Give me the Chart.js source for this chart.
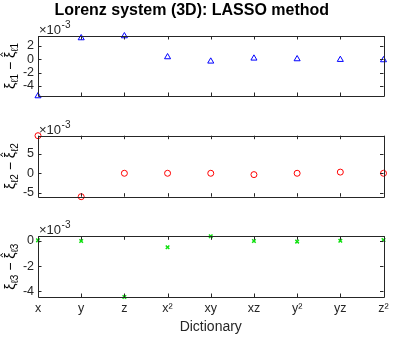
<!DOCTYPE html>
<html>
<head>
<meta charset="utf-8">
<script src="https://cdn.jsdelivr.net/npm/chart.js@4.4.1/dist/chart.umd.min.js"></script>
<style>
  html, body { margin: 0; padding: 0; background: #fff; }
  #wrap { position: relative; width: 393px; height: 340px; }
  canvas { position: absolute; left: 0; }
</style>
</head>
<body>
<div id="wrap">
  <canvas id="c1" width="393" height="110" style="top:0"></canvas>
  <canvas id="c2" width="393" height="110" style="top:110px"></canvas>
  <canvas id="c3" width="393" height="120" style="top:220px"></canvas>
</div>
<script>
// dictionary terms (x axis)
const terms = ['x', 'y', 'z', 'x²', 'xy', 'xz', 'y²', 'yz', 'z²'];

// coefficient errors, in units of 1e-3
const err1 = [-5.5, 3.2, 3.5, 0.35, -0.3, 0.15, 0.05, -0.05, -0.1];
const err2 = [9.7, -6.05, 0, 0, 0, -0.35, 0, 0.3, 0];
const err3 = [0.05, 0, -4.45, -0.5, 0.37, 0, -0.05, 0.02, 0.08];

// y tick labels of each panel
const ticks1 = [-4, -2, 0, 2];
const ticks2 = [-5, 0, 5];
const ticks3 = [-4, -2, 0];

const FONT = "'Liberation Sans', Arial, Helvetica, sans-serif";
const AXIS = '#262626';

// box with inward ticks, the x10^-3 exponent and the y label
const decoPlugin = {
  id: 'deco',
  afterDraw(chart, args, opts) {
    const { ctx, chartArea: a, scales } = chart;
    ctx.save();
    ctx.strokeStyle = AXIS;
    ctx.lineWidth = 1;
    ctx.beginPath();
    ctx.rect(Math.round(a.left) + 0.5, Math.round(a.top) + 0.5,
             Math.round(a.right - a.left), Math.round(a.bottom - a.top));
    const tl = 3.5;
    terms.forEach((t, i) => {
      const px = Math.round(scales.x.getPixelForValue(i)) + 0.5;
      ctx.moveTo(px, a.bottom); ctx.lineTo(px, a.bottom - tl);
      ctx.moveTo(px, a.top); ctx.lineTo(px, a.top + tl);
    });
    scales.y.ticks.forEach(tk => {
      const py = Math.round(scales.y.getPixelForValue(tk.value)) + 0.5;
      ctx.moveTo(a.left, py); ctx.lineTo(a.left + tl, py);
      ctx.moveTo(a.right, py); ctx.lineTo(a.right - tl, py);
    });
    ctx.stroke();

    // exponent
    ctx.fillStyle = AXIS;
    ctx.textBaseline = 'alphabetic';
    ctx.textAlign = 'left';
    ctx.font = '13px ' + FONT;
    const base = a.top - 2;
    ctx.fillText('×10', a.left + 1, base);
    const w = ctx.measureText('×10').width;
    ctx.font = '10px ' + FONT;
    ctx.fillText('-3', a.left + 1.5 + w, base - 6);

    // y label: xi_lk - hat(xi)_lk, rotated
    const k = opts.k;
    const parts = [
      ['ξ', 14, 0, false], ['ℓ' + k, 10, 3, false], [' − ', 14, 0, false],
      ['ξ', 14, 0, true], ['ℓ' + k, 10, 3, false]
    ];
    let total = 0;
    parts.forEach(p => { ctx.font = p[1] + 'px ' + FONT; total += ctx.measureText(p[0]).width; });
    ctx.translate(15, (a.top + a.bottom) / 2);
    ctx.rotate(-Math.PI / 2);
    let x = -total / 2;
    ctx.fillStyle = '#000';
    ctx.strokeStyle = '#000';
    parts.forEach(p => {
      ctx.font = p[1] + 'px ' + FONT;
      ctx.fillText(p[0], x, p[2]);
      const pw = ctx.measureText(p[0]).width;
      if (p[3]) {
        ctx.beginPath();
        ctx.lineWidth = 0.9;
        ctx.moveTo(x + pw * 0.25, -12);
        ctx.lineTo(x + pw * 0.55, -14.5);
        ctx.lineTo(x + pw * 0.85, -12);
        ctx.stroke();
      }
      x += pw;
    });
    ctx.restore();
  }
};

function makePanel(id, values, ticks, min, max, style, color, opts) {
  const showX = !!opts.showX;
  return new Chart(document.getElementById(id), {
    type: 'line',
    data: {
      labels: terms,
      datasets: [{
        data: values,
        showLine: false,
        pointStyle: style.shape,
        pointRadius: style.r,
        pointHoverRadius: style.r,
        pointBorderWidth: style.bw,
        pointBorderColor: color,
        pointBackgroundColor: 'rgba(0,0,0,0)',
        clip: false
      }]
    },
    options: {
      responsive: false,
      animation: false,
      events: [],
      layout: { padding: opts.padding },
      plugins: {
        legend: { display: false },
        tooltip: { enabled: false },
        title: opts.title ? {
          display: true,
          text: opts.title,
          color: '#000',
          font: { family: FONT, size: 16, weight: 'bold' },
          padding: { top: 1, bottom: 15.8 }
        } : { display: false },
        deco: { k: opts.k }
      },
      scales: {
        x: {
          type: 'category',
          offset: false,
          grid: { display: false, drawTicks: false },
          border: { display: false },
          ticks: {
            display: showX,
            color: AXIS,
            padding: 4,
            maxRotation: 0,
            autoSkip: false,
            font: { family: FONT, size: 12.5 }
          },
          title: {
            display: showX,
            text: 'Dictionary',
            color: AXIS,
            font: { family: FONT, size: 14 },
            padding: { top: 0, bottom: 4 }
          },
          afterFit(scale) {
            scale.paddingLeft = 0;
            scale.paddingRight = 0;
            scale.height = showX ? 43 : 0;
          }
        },
        y: {
          min: min,
          max: max,
          grid: { display: false, drawTicks: false },
          border: { display: false },
          ticks: {
            color: AXIS,
            padding: 4,
            font: { family: FONT, size: 12.5 }
          },
          afterBuildTicks(scale) {
            scale.ticks = ticks.map(v => ({ value: v }));
          },
          afterFit(scale) { scale.width = 38; }
        }
      }
    },
    plugins: [decoPlugin]
  });
}

makePanel('c1', err1, ticks1, -5.5, 3.5,
  { shape: 'triangle', r: 3.5, bw: 1 }, '#0000ff',
  { padding: { left: 0, right: 9.5, top: 0, bottom: 14 }, title: 'Lorenz system (3D): LASSO method', k: 1 });

makePanel('c2', err2, ticks2, -6.05, 9.7,
  { shape: 'circle', r: 3, bw: 1 }, '#ff0000',
  { padding: { left: 0, right: 9.5, top: 25.7, bottom: 23.3 }, k: 2 });

makePanel('c3', err3, ticks3, -4.45, 0.37,
  { shape: 'crossRot', r: 2.5, bw: 1.5 }, '#10e010',
  { padding: { left: 0, right: 9.5, top: 16.3, bottom: 0 }, k: 3, showX: true });
</script>
</body>
</html>
